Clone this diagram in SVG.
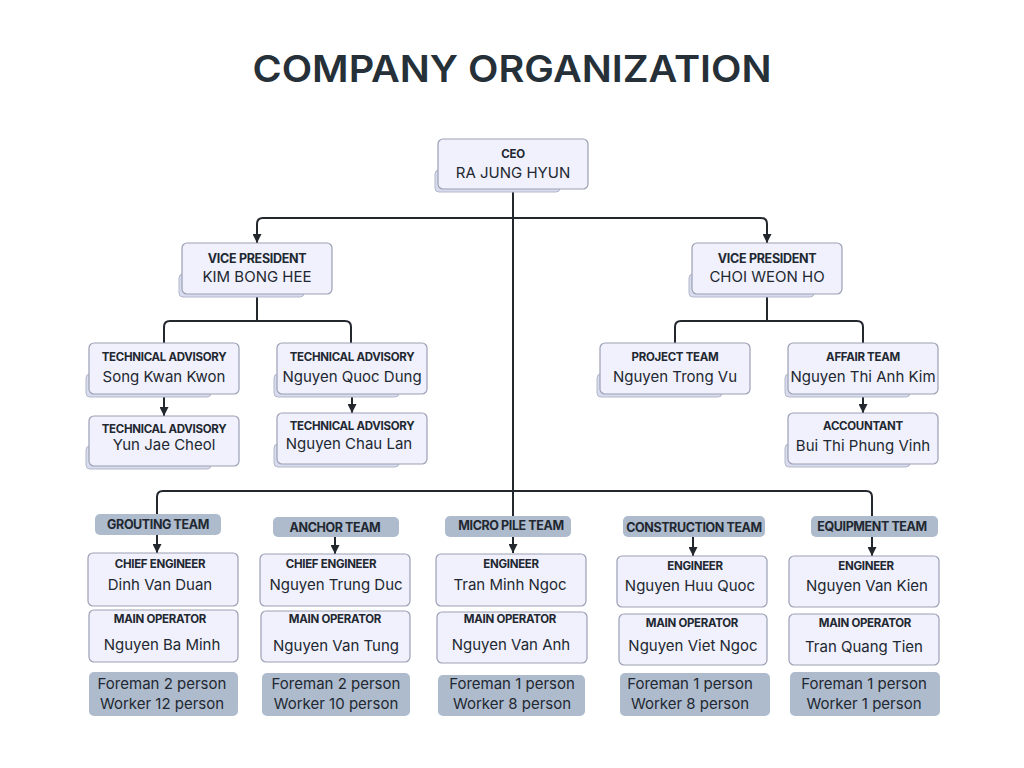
<svg xmlns="http://www.w3.org/2000/svg" width="1024" height="768" viewBox="0 0 1024 768">
<defs>
<marker id="arr" viewBox="0 0 10 10" refX="10" refY="5" markerWidth="9" markerHeight="9" markerUnits="userSpaceOnUse" orient="auto">
<path d="M0,0 L10,5 L0,10 Z" fill="#23272e"/>
</marker>
<style>
.bg{fill:#ffffff}
.title{font-family:Inter,"Open Sans","Liberation Sans",sans-serif;font-weight:600;font-size:37px;fill:#263038}
.box{fill:#f0f1fc;stroke:#9ba0b4;stroke-width:1.2}
.shd{fill:#d9dcee;stroke:#b3b8cb;stroke-width:1}
.tag{fill:#aebbcd}
.role{font-family:Inter,"Liberation Sans",sans-serif;font-weight:700;font-size:11.5px;fill:#222831;text-anchor:middle;letter-spacing:-0.3px}
.team{font-family:Inter,"Liberation Sans",sans-serif;font-weight:700;font-size:12.5px;fill:#222831;text-anchor:middle;letter-spacing:-0.4px}
.name{font-family:Inter,"Liberation Sans",sans-serif;font-size:15px;fill:#222831;text-anchor:middle}
.vp{font-family:Inter,"Liberation Sans",sans-serif;font-weight:700;font-size:12.5px;fill:#222831;text-anchor:middle;letter-spacing:-0.3px}
.ln{fill:none;stroke:#23272e;stroke-width:2}
</style>
</defs>
<rect class="bg" x="0" y="0" width="1024" height="768"/>
<text class="title" x="512" y="82" text-anchor="middle" textLength="519" lengthAdjust="spacingAndGlyphs">COMPANY ORGANIZATION</text>

<g id="connectors">
<path class="ln" d="M513,189 V553" marker-end="url(#arr)"/>
<path class="ln" d="M513,218 H263 Q257,218 257,224 V243" marker-end="url(#arr)"/>
<path class="ln" d="M513,218 H761 Q767,218 767,224 V243" marker-end="url(#arr)"/>
<path class="ln" d="M257,294 V321"/>
<path class="ln" d="M257,321 H170 Q164,321 164,327 V343"/>
<path class="ln" d="M257,321 H345 Q351,321 351,327 V343"/>
<path class="ln" d="M164,394 V416" marker-end="url(#arr)"/>
<path class="ln" d="M352,394 V413" marker-end="url(#arr)"/>
<path class="ln" d="M767,294 V321"/>
<path class="ln" d="M767,321 H681 Q675,321 675,327 V343"/>
<path class="ln" d="M767,321 H857 Q863,321 863,327 V343"/>
<path class="ln" d="M863,394 V413" marker-end="url(#arr)"/>
<path class="ln" d="M513,491 H163 Q157,491 157,497 V553" marker-end="url(#arr)"/>
<path class="ln" d="M513,491 H866 Q872,491 872,497 V556" marker-end="url(#arr)"/>
<path class="ln" d="M335,537 V554" marker-end="url(#arr)"/>
<path class="ln" d="M693,537 V556" marker-end="url(#arr)"/>
</g>

<g id="ceo">
<rect class="shd" x="435" y="170" width="125" height="22" rx="4"/>
<rect class="box" x="438" y="139" width="150" height="50" rx="5"/>
<text class="role" x="513" y="158">CEO</text>
<text class="name" x="513" y="178">RA JUNG HYUN</text>
</g>

<g id="vp-left">
<rect class="shd" x="179" y="274" width="125" height="23" rx="4"/>
<rect class="box" x="182" y="243" width="150" height="51" rx="5"/>
<text class="vp" x="257" y="263">VICE PRESIDENT</text>
<text class="name" x="257" y="282">KIM BONG HEE</text>
</g>

<g id="vp-right">
<rect class="shd" x="689" y="274" width="125" height="23" rx="4"/>
<rect class="box" x="692" y="243" width="150" height="51" rx="5"/>
<text class="vp" x="767" y="263">VICE PRESIDENT</text>
<text class="name" x="767" y="282">CHOI WEON HO</text>
</g>

<g id="tech-1">
<rect class="shd" x="86" y="374" width="125" height="23" rx="4"/>
<rect class="box" x="89" y="343" width="150" height="51" rx="5"/>
<text class="role" x="164" y="361">TECHNICAL ADVISORY</text>
<text class="name" x="164" y="382">Song Kwan Kwon</text>
</g>

<g id="tech-2">
<rect class="shd" x="86" y="446" width="125" height="23" rx="4"/>
<rect class="box" x="89" y="416" width="150" height="50" rx="5"/>
<text class="role" x="164" y="433">TECHNICAL ADVISORY</text>
<text class="name" x="164" y="450">Yun Jae Cheol</text>
</g>

<g id="tech-3">
<rect class="shd" x="274" y="374" width="125" height="23" rx="4"/>
<rect class="box" x="277" y="343" width="150" height="51" rx="5"/>
<text class="role" x="352" y="361">TECHNICAL ADVISORY</text>
<text class="name" x="352" y="382">Nguyen Quoc Dung</text>
</g>

<g id="tech-4">
<rect class="shd" x="274" y="444" width="125" height="23" rx="4"/>
<rect class="box" x="277" y="413" width="150" height="51" rx="5"/>
<text class="role" x="352" y="430">TECHNICAL ADVISORY</text>
<text class="name" x="349" y="449">Nguyen Chau Lan</text>
</g>

<g id="project-team">
<rect class="shd" x="597" y="374" width="125" height="23" rx="4"/>
<rect class="box" x="600" y="343" width="150" height="51" rx="5"/>
<text class="role" x="675" y="361">PROJECT TEAM</text>
<text class="name" x="675" y="382">Nguyen Trong Vu</text>
</g>

<g id="affair-team">
<rect class="shd" x="785" y="374" width="125" height="23" rx="4"/>
<rect class="box" x="788" y="343" width="150" height="51" rx="5"/>
<text class="role" x="863" y="361">AFFAIR TEAM</text>
<text class="name" x="863" y="382">Nguyen Thi Anh Kim</text>
</g>

<g id="accountant">
<rect class="shd" x="785" y="444" width="125" height="23" rx="4"/>
<rect class="box" x="788" y="413" width="150" height="51" rx="5"/>
<text class="role" x="863" y="430">ACCOUNTANT</text>
<text class="name" x="863" y="451">Bui Thi Phung Vinh</text>
</g>

<g id="grouting-team">
<rect class="tag" x="95" y="514" width="126" height="21" rx="5"/>
<text class="team" x="158" y="529">GROUTING TEAM</text>
<rect class="box" x="88" y="553" width="150" height="53" rx="5"/>
<text class="role" x="160" y="568">CHIEF ENGINEER</text>
<text class="name" x="160" y="590">Dinh Van Duan</text>
<rect class="box" x="89" y="610" width="149" height="52" rx="5"/>
<text class="role" x="160" y="623">MAIN OPERATOR</text>
<text class="name" x="162" y="650">Nguyen Ba Minh</text>
<rect class="tag" x="89" y="672" width="149" height="44" rx="5"/>
<text class="name" x="162" y="689">Foreman 2 person</text>
<text class="name" x="162" y="709">Worker 12 person</text>
</g>

<g id="anchor-team">
<rect class="tag" x="273" y="517" width="126" height="20" rx="5"/>
<text class="team" x="335" y="532">ANCHOR TEAM</text>
<rect class="box" x="260" y="554" width="150" height="52" rx="5"/>
<text class="role" x="331" y="568">CHIEF ENGINEER</text>
<text class="name" x="336" y="590">Nguyen Trung Duc</text>
<rect class="box" x="261" y="611" width="149" height="51" rx="5"/>
<text class="role" x="335" y="623">MAIN OPERATOR</text>
<text class="name" x="336" y="651">Nguyen Van Tung</text>
<rect class="tag" x="262" y="673" width="148" height="43" rx="5"/>
<text class="name" x="336" y="689">Foreman 2 person</text>
<text class="name" x="336" y="709">Worker 10 person</text>
</g>

<g id="micro-pile-team">
<rect class="tag" x="445" y="516" width="126" height="21" rx="5"/>
<text class="team" x="511" y="530">MICRO PILE TEAM</text>
<rect class="box" x="436" y="554" width="150" height="52" rx="5"/>
<text class="role" x="511" y="568">ENGINEER</text>
<text class="name" x="510" y="590">Tran Minh Ngoc</text>
<rect class="box" x="437" y="612" width="150" height="51" rx="5"/>
<text class="role" x="510" y="623">MAIN OPERATOR</text>
<text class="name" x="511" y="650">Nguyen Van Anh</text>
<rect class="tag" x="438" y="675" width="147" height="41" rx="5"/>
<text class="name" x="512" y="689">Foreman 1 person</text>
<text class="name" x="512" y="709">Worker 8 person</text>
</g>

<g id="construction-team">
<rect class="tag" x="623" y="516" width="142" height="21" rx="5"/>
<text class="team" x="694" y="532">CONSTRUCTION TEAM</text>
<rect class="box" x="617" y="556" width="150" height="51" rx="5"/>
<text class="role" x="695" y="570">ENGINEER</text>
<text class="name" x="690" y="591">Nguyen Huu Quoc</text>
<rect class="box" x="619" y="614" width="148" height="51" rx="5"/>
<text class="role" x="692" y="627">MAIN OPERATOR</text>
<text class="name" x="693" y="651">Nguyen Viet Ngoc</text>
<rect class="tag" x="620" y="673" width="150" height="43" rx="5"/>
<text class="name" x="690" y="689">Foreman 1 person</text>
<text class="name" x="690" y="709">Worker 8 person</text>
</g>

<g id="equipment-team">
<rect class="tag" x="811" y="516" width="127" height="21" rx="5"/>
<text class="team" x="872" y="531">EQUIPMENT TEAM</text>
<rect class="box" x="789" y="556" width="150" height="51" rx="5"/>
<text class="role" x="866" y="570">ENGINEER</text>
<text class="name" x="867" y="591">Nguyen Van Kien</text>
<rect class="box" x="789" y="614" width="150" height="51" rx="5"/>
<text class="role" x="865" y="627">MAIN OPERATOR</text>
<text class="name" x="864" y="652">Tran Quang Tien</text>
<rect class="tag" x="790" y="672" width="150" height="44" rx="5"/>
<text class="name" x="864" y="689">Foreman 1 person</text>
<text class="name" x="864" y="709">Worker 1 person</text>
</g>
</svg>
